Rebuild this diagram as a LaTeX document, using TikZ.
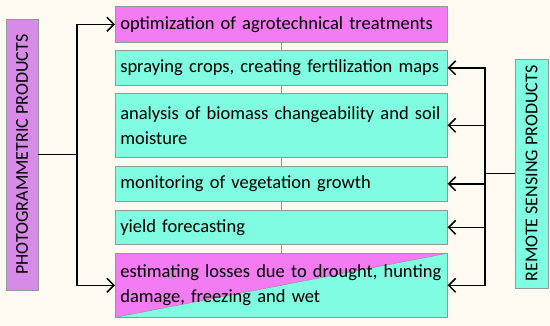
\documentclass[tikz,border=0pt]{standalone}
\usepackage{fontspec}
\setmainfont{Carlito}
\usepackage{tikz}
\usetikzlibrary{arrows.meta,positioning}
\definecolor{paper}{HTML}{FDFBF1}
\definecolor{aqua}{HTML}{80FCE0}
\definecolor{pinkish}{HTML}{F47CF2}
\definecolor{lilac}{HTML}{D68CE6}
\definecolor{rim}{HTML}{8E9A98}
\tikzset{
  taskbox/.style={
    draw=rim,
    line width=0.6pt,
    fill=aqua,
    anchor=north west,
    align=left,
    font=\fontsize{18.5}{25}\selectfont,
    inner xsep=5pt,
    inner ysep=0pt,
    text width=322pt,
    minimum width=332pt
  },
  pinkbox/.style={fill=pinkish},
  sourcebox/.style={
    draw=rim,
    line width=0.6pt,
    anchor=north west,
    rotate=90,
    font=\fontsize{18}{20}\selectfont,
    inner sep=0pt
  },
  feed/.style={line width=1.5pt, draw=black, -{Straight Barb[length=7pt,width=14pt,line width=1.5pt]}},
  trunk/.style={line width=1.5pt, draw=black},
  link/.style={line width=0.6pt, draw=rim}
}

\begin{document}
\begin{tikzpicture}[x=1pt,y=-1pt]
\path[use as bounding box] (0,0) rectangle (550,326);
\fill[paper] (0,0) rectangle (550,326);

% source products
\node[sourcebox, fill=lilac, minimum width=271pt, minimum height=32pt, anchor=center]
  (photo) at (22,154.5) {PHOTOGRAMMETRIC PRODUCTS};
\node[sourcebox, fill=aqua, minimum width=229pt, minimum height=33pt, anchor=center]
  (remote) at (531.5,173.5) {REMOTE SENSING PRODUCTS};

% tasks
\node[taskbox, pinkbox, minimum height=36pt] (opt) at (115,6) {optimization of agrotechnical treatments};
\node[taskbox, minimum height=35pt] (spray) at (115,50) {spraying crops, creating fertilization maps};
\node[taskbox, minimum height=64pt] (biomass) at (115,93) {analysis of biomass changeability and soil\\moisture};
\node[taskbox, minimum height=35pt] (growth) at (115,166) {monitoring of vegetation growth};
\node[taskbox, minimum height=34pt] (yield) at (115,210) {yield forecasting};
\node[taskbox, minimum height=64pt,
  path picture={
    \fill[pinkish] (path picture bounding box.north west) -- (path picture bounding box.north east)
      -- (path picture bounding box.south west) -- cycle;
    \draw[rim, line width=0.5pt] (path picture bounding box.south west) -- (path picture bounding box.north east);
  }] (loss) at (115,253) {estimating losses due to drought, hunting\\damage, freezing and wet};

\draw[link] (opt) -- (spray);
\draw[link] (spray) -- (biomass);
\draw[link] (biomass) -- (growth);
\draw[link] (growth) -- (yield);
\draw[link] (yield) -- (loss);

% photogrammetric branch
\coordinate (pj) at (77,154.5);
\draw[trunk] (photo.south) -- (pj);
\draw[feed] (pj) |- (opt.west);
\draw[feed] (pj) |- (loss.west);

% remote sensing branch
\coordinate (rj) at (485,173.5);
\draw[trunk] (remote.north) -- (rj);
\draw[feed] (rj) |- (spray.east);
\draw[feed] (rj) |- (biomass.east);
\draw[feed] (rj) |- (growth.east);
\draw[feed] (rj) |- (yield.east);
\draw[feed] (rj) |- (loss.east);

\end{tikzpicture}
\end{document}
